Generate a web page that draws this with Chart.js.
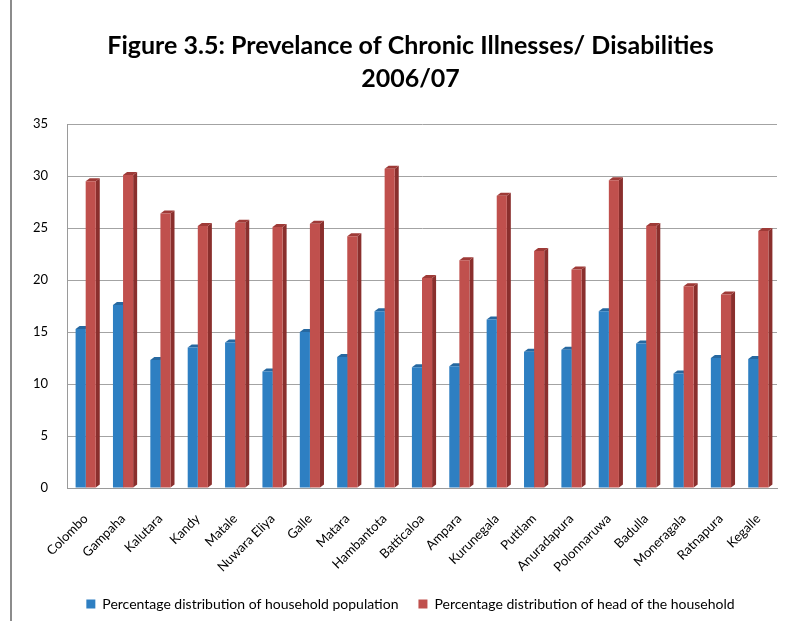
<!DOCTYPE html>
<html>
<head>
<meta charset="utf-8">
<script src="https://cdn.jsdelivr.net/npm/chart.js@4"></script>
<style>
	html, body { margin: 0; padding: 0; background: #fff; overflow: hidden; }
	#frame { position: relative; width: 795px; height: 621px; }
	#frame::before { content: ''; position: absolute; left: 10px; top: 0; bottom: 0; width: 2px; background: #8c8c8c; }
	canvas { position: absolute; left: 0; top: 0; }
</style>
</head>
<body>
<div id="frame"><canvas id="illnessChart" width="795" height="621"></canvas></div>
<script>
'use strict';

const districts = ['Colombo', 'Gampaha', 'Kalutara', 'Kandy', 'Matale', 'Nuwara Eliya', 'Galle', 'Matara',
	'Hambantota', 'Batticaloa', 'Ampara', 'Kurunegala', 'Puttlam', 'Anuradapura', 'Polonnaruwa', 'Badulla',
	'Moneragala', 'Ratnapura', 'Kegalle'];
const householdPopulation = [15.3, 17.6, 12.3, 13.5, 14.0, 11.2, 15.0, 12.6, 17.0, 11.6, 11.7, 16.2, 13.1, 13.3, 17.0, 13.9, 11.0, 12.5, 12.4];
const headOfHousehold = [29.5, 30.1, 26.4, 25.2, 25.5, 25.1, 25.4, 24.2, 30.7, 20.2, 21.9, 28.1, 22.8, 21.0, 29.6, 25.2, 19.4, 18.6, 24.7];
const yTicks = [0, 5, 10, 15, 20, 25, 30, 35];

const titleLines = ['Figure 3.5: Prevelance of Chronic Illnesses/ Disabilities', '2006/07'];

// Side and top faces for the 3D column look, drawn behind the fronts
const columnDepth = {
	id: 'columnDepth',
	beforeDatasetsDraw(chart) {
		const ctx = chart.ctx;
		const dx = 4, dy = 3;
		chart.data.datasets.forEach((ds, i) => {
			const meta = chart.getDatasetMeta(i);
			meta.data.forEach((bar) => {
				const left = bar.x - bar.width / 2;
				const right = bar.x + bar.width / 2;
				const top = bar.y;
				const bottom = bar.base;
				ctx.save();
				ctx.fillStyle = ds.sideColor;
				ctx.beginPath();
				ctx.moveTo(right, top);
				ctx.lineTo(right + dx, top - dy);
				ctx.lineTo(right + dx, bottom - dy);
				ctx.lineTo(right, bottom);
				ctx.closePath();
				ctx.fill();
				ctx.fillStyle = ds.topColor;
				ctx.beginPath();
				ctx.moveTo(left, top);
				ctx.lineTo(left + dx, top - dy);
				ctx.lineTo(right + dx, top - dy);
				ctx.lineTo(right, top);
				ctx.closePath();
				ctx.fill();
				ctx.restore();
			});
		});
	}
};

const ctx = document.getElementById('illnessChart');

const illnessChart = new Chart(ctx, {
	type: 'bar',
	data: {
		labels: districts,
		datasets: [
			{
				label: 'Percentage distribution of household population',
				data: householdPopulation,
				backgroundColor: '#2e7fc2',
				sideColor: '#1d5a8c',
				topColor: '#2668a0'
			},
			{
				label: 'Percentage distribution of head of the household',
				data: headOfHousehold,
				backgroundColor: '#c0504d',
				sideColor: '#8a2f2d',
				topColor: '#9e3a37'
			}
		]
	},
	options: {
		responsive: false,
		animation: false,
		layout: { padding: { left: 26, right: 0, top: 0, bottom: 0 } },
		datasets: {
			bar: { categoryPercentage: 0.54, barPercentage: 1.0 }
		},
		plugins: {
			title: {
				display: true,
				text: titleLines,
				color: '#000',
				font: { family: 'Lato', size: 25, weight: 'bold', lineHeight: 1.3 },
				padding: { top: 30, bottom: 29 }
			},
			legend: {
				position: 'bottom',
				labels: {
					color: '#000',
					font: { family: 'Lato', size: 14 },
					boxWidth: 9,
					boxHeight: 9,
					padding: 20
				}
			},
			tooltip: { enabled: false }
		},
		scales: {
			x: {
				grid: { display: false, drawTicks: false },
				border: { display: true, color: '#9a9a9a' },
				ticks: {
					color: '#000',
					font: { family: 'Lato', size: 13 },
					minRotation: 45,
					maxRotation: 45,
					padding: 23,
					autoSkip: false
				},
				afterFit(scale) { scale.height = 89; }
			},
			y: {
				min: 0,
				max: 35,
				afterBuildTicks(scale) { scale.ticks = yTicks.map(v => ({ value: v })); },
				grid: { color: '#a3a3a3', drawTicks: false },
				border: { display: true, color: '#9a9a9a' },
				ticks: {
					color: '#000',
					font: { family: 'Lato', size: 13 },
					padding: 19
				},
				afterFit(scale) { scale.width = 41; }
			},
			yRight: {
				position: 'right',
				display: true,
				grid: { display: false, drawTicks: false },
				border: { display: false },
				ticks: { display: false },
				afterFit(scale) { scale.width = 18; }
			}
		}
	},
	plugins: [columnDepth]
});
</script>
</body>
</html>
